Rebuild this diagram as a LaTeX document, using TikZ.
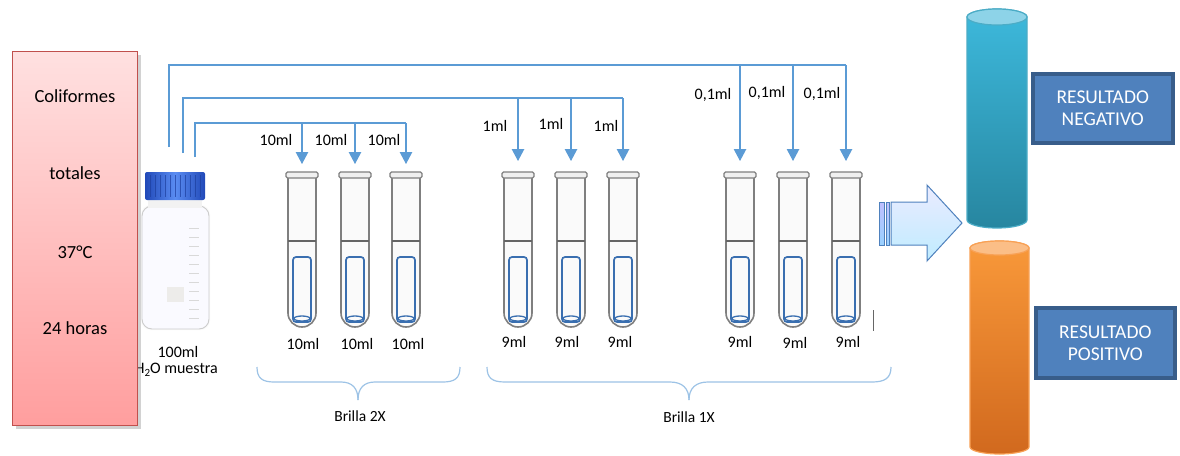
\documentclass[tikz,border=0pt]{standalone}
\usepackage{fontspec}
\setmainfont{Carlito}
\usetikzlibrary{arrows.meta,shadows,calc}

\definecolor{feed}{HTML}{5B9BD5}
\definecolor{bracec}{HTML}{9DC3E6}
\definecolor{tubegray}{HTML}{7F7F7F}
\definecolor{innerblue}{HTML}{3A6FB0}
\definecolor{boxred}{HTML}{C0504D}
\definecolor{resfill}{HTML}{4F81BD}
\definecolor{resedge}{HTML}{385D8A}
\definecolor{arrowedge}{HTML}{4F81BD}
\definecolor{negtop}{HTML}{3DB9DC}
\definecolor{negbot}{HTML}{2786A0}
\definecolor{negcap}{HTML}{8DD3E8}
\definecolor{negedge}{HTML}{4BACC6}
\definecolor{postop}{HTML}{F9993A}
\definecolor{posbot}{HTML}{D1691E}
\definecolor{poscap}{HTML}{FBBE87}
\definecolor{posedge}{HTML}{F8A155}
\definecolor{capdark}{HTML}{2149B8}
\definecolor{capmid}{HTML}{5A8CF2}
\definecolor{caprib}{HTML}{1D3F9E}

\tikzset{
  feedline/.style={draw=feed, line width=1.1pt},
  feedarrow/.style={draw=feed, line width=1.1pt, -{Triangle[width=12.5pt,length=12pt]}},
  smalllabel/.style={font=\fontsize{16}{18}\selectfont, inner sep=0pt},
  bracelabel/.style={font=\fontsize{15.5}{17}\selectfont, inner sep=0pt},
  boxtext/.style={font=\fontsize{18.5}{21}\selectfont, inner sep=0pt},
  restext/.style={font=\fontsize{19.5}{22}\selectfont, text=white, align=center, inner sep=0pt},
  bracepath/.style={draw=bracec, line width=1.2pt},
  resbox/.style={fill=resfill, draw=resedge, line width=3.5pt},
}

\begin{document}
\begin{tikzpicture}[x=1pt,y=-1pt]
\useasboundingbox (0,0) rectangle (1180,455);
\fill[white] (0,0) rectangle (1180,455);

% ---- sample bottle ----
\node[smalllabel] (vol) at (178,352) {100ml};
\node[smalllabel, anchor=east] (h2o) at (218,370) {H\raisebox{-0.35ex}{\fontsize{11}{11}\selectfont 2}O muestra};
\fill[white!95!gray, rounded corners=10pt] (141,205) rectangle (210,330);
\draw[gray!40, line width=0.9pt, rounded corners=10pt, fill=blue!2] (142,206) rectangle (209,329);
\foreach \gy in {228,237,...,318} \draw[gray!30, line width=0.7pt] (189,\gy) -- (199,\gy);
\fill[orange!8!gray!15] (167,287) rectangle (184,302);
\fill[gray!10] (148,200) rectangle (202,208);
\shade[left color=capdark, right color=capdark, middle color=capmid, rounded corners=2pt]
  (145,172) rectangle (205,200);
\foreach \gx in {150,155,...,200} \draw[caprib, line width=0.6pt, opacity=0.7] (\gx,175) -- (\gx,197);
\coordinate (bottle) at (175,172);

% ---- incubation conditions ----
\node[draw=boxred, line width=1.2pt, top color=red!12, bottom color=red!38!white,
      minimum width=125pt, minimum height=374pt, anchor=north west, inner sep=0pt,
      drop shadow={shadow xshift=3pt, shadow yshift=-3pt, opacity=0.35}] (cond) at (12,51) {};
\node[boxtext] at (75,96) {Coliformes};
\node[boxtext] at (75,173) {totales};
\node[boxtext] at (75,252) {37°C};
\node[boxtext] at (75,328) {24 horas};

% ---- test tubes ----
\foreach \i/\cx in {1/302,2/355,3/406,4/518,5/571,6/623,7/740,8/793,9/846}{
  \coordinate (t\i) at (\cx,172);
  \fill[gray!4] (\cx-14,178) -- (\cx-14,313) arc[start angle=180,end angle=360,radius=14pt] -- (\cx+14,178) -- cycle;
  \draw[tubegray, line width=1.6pt] (\cx-14,178) -- (\cx-14,313) arc[start angle=180,end angle=360,radius=14pt] -- (\cx+14,178);
  \draw[tubegray, line width=1.3pt, fill=gray!12, rounded corners=1.5pt] (\cx-16,172) rectangle (\cx+16,178);
  \draw[tubegray!80!black, line width=1.3pt] (\cx-14,241) -- (\cx+14,241);
  \draw[innerblue, line width=1.7pt, rounded corners=3pt] (\cx-9,257) rectangle (\cx+9,322);
  \draw[innerblue, line width=1.3pt] (\cx,318.5) ellipse[x radius=8pt, y radius=2.5pt];
}
\draw[gray!80!black, line width=1pt] (873,310) -- (873,331);

% tube volumes
\foreach \x/\y/\t in {303/344/10ml,357/344/10ml,408/344/10ml,
                      514/342/9ml,567/342/9ml,620/342/9ml,
                      740/342/9ml,795/343/9ml,848/342/9ml}
  \node[smalllabel] at (\x,\y) {\t};

% ---- distribution lines from the bottle ----
\coordinate (s1) at (169,147);
\coordinate (s2) at (183,153);
\coordinate (s3) at (195,157);

\draw[feedline] (s1) |- ($(t9)+(0,-107)$);
\foreach \i in {7,8,9} \draw[feedarrow] ($(t\i)+(0,-107)$) -- ($(t\i)+(0,-11)$);
\draw[feedline] (s2) |- ($(t6)+(0,-74)$);
\foreach \i in {4,5,6} \draw[feedarrow] ($(t\i)+(0,-74)$) -- ($(t\i)+(0,-11)$);
\draw[feedline] (s3) |- ($(t3)+(0,-49)$);
\foreach \i in {1,2,3} \draw[feedarrow] ($(t\i)+(0,-49)$) -- ($(t\i)+(0,-8)$);

\foreach \x/\y/\t in {276/140/10ml,331/140/10ml,384/140/10ml,
                      495/126/1ml,551/124/1ml,606/126/1ml,
                      713/95/{0,1ml},767/93/{0,1ml},822/94/{0,1ml}}
  \node[smalllabel] at (\x,\y) {\t};

% ---- medium braces ----
\draw[bracepath] (257,367) .. controls (257,378) and (262,382) .. (274,382) -- (341,382)
  .. controls (352,382) and (358,388) .. (358,400);
\draw[bracepath] (358,400) .. controls (358,388) and (364,382) .. (375,382) -- (443,382)
  .. controls (455,382) and (460,378) .. (460,367);
\node[bracelabel] (b2x) at (360,416) {Brilla 2X};

\draw[bracepath] (487,367) .. controls (487,378) and (492,382) .. (505,382) -- (670,382)
  .. controls (682,382) and (689,388) .. (689,400);
\draw[bracepath] (689,400) .. controls (689,388) and (696,382) .. (708,382) -- (872,382)
  .. controls (885,382) and (891,378) .. (891,367);
\node[bracelabel] (b1x) at (689,417) {Brilla 1X};

% ---- block arrow towards the results ----
\shade[top color=blue!8, bottom color=blue!30!cyan!25, draw=arrowedge, line width=1pt]
  (891,202) -- (927,202) -- (927,185) -- (962,223) -- (927,261) -- (927,245) -- (891,245) -- cycle;
\shade[top color=blue!25, bottom color=blue!45!cyan!40, draw=arrowedge, line width=0.8pt] (879,202) rectangle (884,245);
\shade[top color=blue!25, bottom color=blue!45!cyan!40, draw=arrowedge, line width=0.8pt] (886,202) rectangle (889,245);

% ---- result cylinders ----
\shade[top color=negtop, bottom color=negbot, draw=negedge, line width=1.2pt]
  (967,17) -- (967,220) arc[start angle=180,end angle=360,x radius=30pt,y radius=8pt]
  -- (1027,17) arc[start angle=0,end angle=180,x radius=30pt,y radius=8pt] -- cycle;
\draw[fill=negcap, draw=negedge, line width=1.2pt] (997,17) ellipse[x radius=30pt, y radius=8pt];
\coordinate (negcyl) at (1027,106);

\shade[top color=postop, bottom color=posbot, draw=posedge, line width=1.2pt]
  (970,248) -- (970,447) arc[start angle=180,end angle=360,x radius=29.5pt,y radius=7pt]
  -- (1029,248) arc[start angle=0,end angle=180,x radius=29.5pt,y radius=7pt] -- cycle;
\draw[fill=poscap, draw=posedge, line width=1.2pt] (999.5,248) ellipse[x radius=29.5pt, y radius=7pt];
\coordinate (poscyl) at (1029,340);

% ---- result boxes ----
\node[resbox, minimum width=140pt, minimum height=69pt, anchor=north west,
      drop shadow={shadow xshift=2pt, shadow yshift=-2pt, opacity=0.25}] (neg) at (1031,72) {};
\node[restext] at (neg.center) {RESULTADO\\NEGATIVO};
\node[resbox, minimum width=139pt, minimum height=70pt, anchor=north west,
      drop shadow={shadow xshift=2pt, shadow yshift=-2pt, opacity=0.25}] (pos) at (1034,306) {};
\node[restext] at (pos.center) {RESULTADO\\POSITIVO};
\end{tikzpicture}
\end{document}
